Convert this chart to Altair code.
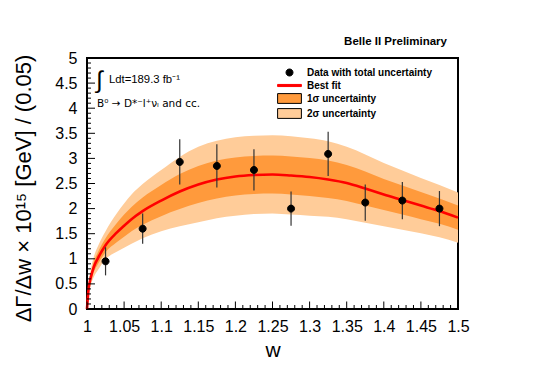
import altair as alt
import pandas as pd

# ---------------- data ----------------
w_bins = [1.025, 1.075, 1.125, 1.175, 1.225, 1.275, 1.325, 1.375, 1.425, 1.475]
y_vals = [0.95, 1.60, 2.93, 2.85, 2.77, 2.00, 3.09, 2.12, 2.16, 2.00]
y_err = [0.28, 0.30, 0.45, 0.43, 0.41, 0.34, 0.44, 0.36, 0.37, 0.35]

w_curve = [1.0, 1.002, 1.005, 1.009, 1.015, 1.025, 1.04, 1.05, 1.06, 1.075, 1.1, 1.125,
           1.15, 1.175, 1.2, 1.225, 1.25, 1.275, 1.3, 1.325, 1.35, 1.375, 1.4, 1.425,
           1.45, 1.475, 1.5]
fit = [0.0, 0.38, 0.62, 0.83, 1.02, 1.27, 1.52, 1.66, 1.79, 1.95, 2.16, 2.34,
       2.48, 2.58, 2.64, 2.67, 2.68, 2.66, 2.63, 2.58, 2.51, 2.40, 2.28, 2.17,
       2.06, 1.95, 1.82]
lo1 = [0.0, 0.33, 0.55, 0.73, 0.90, 1.13, 1.33, 1.44, 1.55, 1.68, 1.85, 1.99,
       2.11, 2.20, 2.26, 2.29, 2.30, 2.28, 2.25, 2.21, 2.15, 2.06, 1.97, 1.88,
       1.79, 1.70, 1.58]
hi1 = [0.0, 0.43, 0.69, 0.93, 1.14, 1.41, 1.71, 1.88, 2.03, 2.22, 2.47, 2.69,
       2.85, 2.96, 3.02, 3.05, 3.06, 3.04, 3.01, 2.96, 2.87, 2.74, 2.59, 2.46,
       2.33, 2.20, 2.06]
lo2 = [0.0, 0.28, 0.47, 0.63, 0.78, 0.99, 1.14, 1.22, 1.30, 1.41, 1.55, 1.65,
       1.73, 1.81, 1.86, 1.89, 1.90, 1.88, 1.86, 1.84, 1.79, 1.72, 1.65, 1.58,
       1.51, 1.43, 1.32]
hi2 = [0.0, 0.48, 0.77, 1.03, 1.26, 1.55, 1.90, 2.10, 2.28, 2.49, 2.77, 3.03,
       3.23, 3.35, 3.42, 3.45, 3.46, 3.44, 3.40, 3.34, 3.23, 3.08, 2.91, 2.76,
       2.61, 2.47, 2.32]

x_tick_labels = [1.0, 1.05, 1.1, 1.15, 1.2, 1.25, 1.3, 1.35, 1.4, 1.45, 1.5]
y_tick_labels = [0, 0.5, 1, 1.5, 2, 2.5, 3, 3.5, 4, 4.5, 5]
x_minor = [round(1 + i * 0.01, 3) for i in range(51) if i % 5 != 0]
y_minor = [round(i * 0.1, 2) for i in range(51) if i % 5 != 0]

legend_labels = ["Data with total uncertainty", "Best fit", "1σ uncertainty", "2σ uncertainty"]
y_title = "ΔΓ/Δw × 10¹⁵ [GeV] / (0.05)"
x_title = "w"
header = "Belle II Preliminary"
lumi_sign = "∫"
lumi_text = "Ldt=189.3 fb⁻¹"
decay_text = "B⁰ → D*⁻l⁺νₗ and cc."

# ---------------- tables ----------------
pts = pd.DataFrame({"w": w_bins, "y": y_vals, "err": y_err})
pts["lo"] = pts["y"] - pts["err"]
pts["hi"] = pts["y"] + pts["err"]
pts["series"] = legend_labels[0]

band = pd.DataFrame({"w": w_curve, "fit": fit, "lo1": lo1, "hi1": hi1,
                     "lo2": lo2, "hi2": hi2})

FONT = "Liberation Sans"
W, H = 371, 251

xscale = alt.Scale(domain=[1, 1.5], nice=False, zero=False)
yscale = alt.Scale(domain=[0, 5], nice=False, zero=True)

xaxis = alt.Axis(values=x_tick_labels, format="~g", title=x_title, domain=False,
                 ticks=False, grid=False, labelPadding=9, labelFontSize=16,
                 labelFont=FONT, labelColor="black", labelFlush=False,
                 labelOverlap=False, titleFont=FONT, titleFontSize=21,
                 titleFontWeight="normal", titleColor="black", titleX=W / 2,
                 titleY=47, titleBaseline="alphabetic", titleAlign="center")
yaxis = alt.Axis(values=y_tick_labels, format="~g", title=y_title, domain=False,
                 ticks=False, grid=False, labelPadding=10, labelFontSize=16,
                 labelFont=FONT, labelColor="black", labelFlush=False,
                 labelOverlap=False, titleFont=FONT, titleFontSize=22,
                 titleFontWeight="normal", titleColor="black", titleAngle=270,
                 titleX=-64, titleY=130, titleBaseline="middle",
                 titleAlign="center")


def X(field):
    return alt.X(field, scale=xscale, axis=xaxis, title=x_title)


def Y(field):
    return alt.Y(field, scale=yscale, axis=yaxis, title=y_title)


base = alt.Chart(band)

band2 = base.mark_area(color="#ffcc99", interpolate="monotone").encode(
    x=X("w:Q"), y=Y("lo2:Q"), y2="hi2:Q")
band1 = base.mark_area(color="#ff9a3c", interpolate="monotone").encode(
    x=X("w:Q"), y=Y("lo1:Q"), y2="hi1:Q")
fit_line = base.mark_line(color="#ff0000", strokeWidth=2.6, interpolate="monotone").encode(
    x=X("w:Q"), y=Y("fit:Q"))

errbars = alt.Chart(pts).mark_rule(color="#333333", strokeWidth=1.2).encode(
    x=X("w:Q"), y=Y("lo:Q"), y2="hi:Q")

shape_paths = [
    "M-0.5,0A0.5,0.5,0,1,0,0.5,0A0.5,0.5,0,1,0,-0.5,0Z",
    "M-1.7,-0.15H1.7V0.15H-1.7Z",
    "M-1.7,-0.7H1.7V0.7H-1.7Z",
    "M-1.7,-0.7H1.7V0.7H-1.7Z",
]
legend = alt.Legend(title=None, orient="none", legendX=195, legendY=7, padding=0,
                    labelFont=FONT, labelFontSize=10, labelFontWeight="bold",
                    labelColor="black", labelOffset=10, rowPadding=0,
                    symbolSize=196, symbolStrokeWidth=1, symbolOpacity=1)
points = alt.Chart(pts).mark_point(filled=True, size=196, opacity=1, strokeWidth=1).encode(
    x=X("w:Q"), y=Y("y:Q"),
    fill=alt.Fill("series:N", scale=alt.Scale(domain=legend_labels,
                  range=["black", "#ff0000", "#ff9a3c", "#ffcc99"]), legend=legend),
    stroke=alt.Stroke("series:N", scale=alt.Scale(domain=legend_labels,
                      range=["black", "#ff0000", "black", "black"]), legend=legend),
    shape=alt.Shape("series:N", scale=alt.Scale(domain=legend_labels,
                    range=shape_paths), legend=legend),
)

# inward ticks (ROOT style)
yt_major = alt.Chart(pd.DataFrame({"v": y_tick_labels})).mark_rule(color="black", strokeWidth=1).encode(
    y=Y("v:Q"), x=alt.value(0), x2=alt.value(8))
yt_minor = alt.Chart(pd.DataFrame({"v": y_minor})).mark_rule(color="black", strokeWidth=1).encode(
    y=Y("v:Q"), x=alt.value(0), x2=alt.value(4))
xt_major = alt.Chart(pd.DataFrame({"v": x_tick_labels})).mark_rule(color="black", strokeWidth=1).encode(
    x=X("v:Q"), y=alt.value(H), y2=alt.value(H - 7.5))
xt_minor = alt.Chart(pd.DataFrame({"v": x_minor})).mark_rule(color="black", strokeWidth=1).encode(
    x=X("v:Q"), y=alt.value(H), y2=alt.value(H - 4))


def label(text, x, y, size, weight="normal", align="left", font=FONT):
    return alt.Chart(pd.DataFrame({"t": [text]})).mark_text(
        font=font, fontSize=size, fontWeight=weight, align=align,
        baseline="middle", color="black").encode(
        text="t:N", x=alt.value(x), y=alt.value(y))


texts = [
    label(header, 360, -16, 11.5, "bold", "right"),
    label(lumi_sign, 12.5, 23, 24, "normal", "center"),
    label(lumi_text, 22, 22, 11.3),
    label(decay_text, 10, 46, 10.5, font="DejaVu Sans"),
]

chart = alt.layer(band2, band1, fit_line, errbars, points,
                  yt_major, yt_minor, xt_major, xt_minor, *texts).properties(
    width=W, height=H,
    background="white",
    autosize=alt.AutoSizeParams(type="none"),
    padding={"left": 79, "top": 50, "right": 79, "bottom": 52},
).configure_view(stroke="black", strokeWidth=2)

chart.save("out.html", embed_options={"renderer": "svg", "actions": False})
